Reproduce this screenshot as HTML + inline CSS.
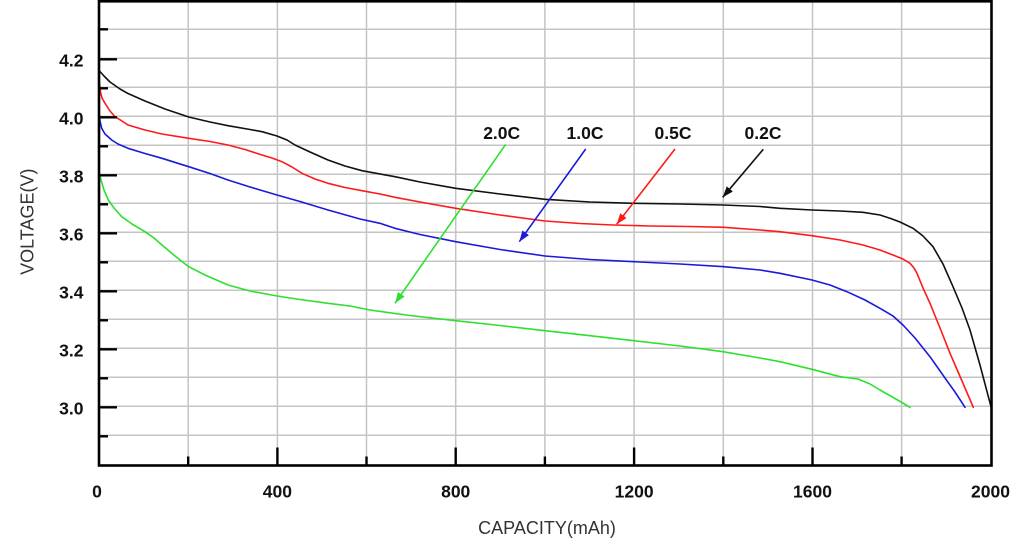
<!DOCTYPE html>
<html>
<head>
<meta charset="utf-8">
<style>
html,body{margin:0;padding:0;background:#fff;}
svg{display:block;}
text{font-family:"Liberation Sans",Arial,sans-serif;}
</style>
</head>
<body>
<svg width="1024" height="545" viewBox="0 0 1024 545" xmlns="http://www.w3.org/2000/svg">
<defs>
<marker id="mk" markerUnits="userSpaceOnUse" markerWidth="14" markerHeight="10" refX="11" refY="4" orient="auto">
<path d="M0,0 L11,4 L0,8 Z" fill="#111"/>
</marker>
<marker id="mr" markerUnits="userSpaceOnUse" markerWidth="14" markerHeight="10" refX="11" refY="4" orient="auto">
<path d="M0,0 L11,4 L0,8 Z" fill="#ff1a1a"/>
</marker>
<marker id="mb" markerUnits="userSpaceOnUse" markerWidth="14" markerHeight="10" refX="11" refY="4" orient="auto">
<path d="M0,0 L11,4 L0,8 Z" fill="#1a1adc"/>
</marker>
<marker id="mg" markerUnits="userSpaceOnUse" markerWidth="14" markerHeight="10" refX="11" refY="4" orient="auto">
<path d="M0,0 L11,4 L0,8 Z" fill="#2ee02e"/>
</marker>
</defs>

<!-- gridlines -->
<g stroke="#c4c4c4" stroke-width="1.5">
<line x1="188.2" y1="1" x2="188.2" y2="465"/>
<line x1="277.4" y1="1" x2="277.4" y2="465"/>
<line x1="366.5" y1="1" x2="366.5" y2="465"/>
<line x1="455.7" y1="1" x2="455.7" y2="465"/>
<line x1="544.9" y1="1" x2="544.9" y2="465"/>
<line x1="634.1" y1="1" x2="634.1" y2="465"/>
<line x1="723.3" y1="1" x2="723.3" y2="465"/>
<line x1="812.5" y1="1" x2="812.5" y2="465"/>
<line x1="901.6" y1="1" x2="901.6" y2="465"/>

<line x1="99" y1="29.3" x2="991" y2="29.3"/>
<line x1="99" y1="58.3" x2="991" y2="58.3"/>
<line x1="99" y1="87.3" x2="991" y2="87.3"/>
<line x1="99" y1="116.3" x2="991" y2="116.3"/>
<line x1="99" y1="145.3" x2="991" y2="145.3"/>
<line x1="99" y1="174.3" x2="991" y2="174.3"/>
<line x1="99" y1="203.3" x2="991" y2="203.3"/>
<line x1="99" y1="232.3" x2="991" y2="232.3"/>
<line x1="99" y1="261.3" x2="991" y2="261.3"/>
<line x1="99" y1="290.3" x2="991" y2="290.3"/>
<line x1="99" y1="319.3" x2="991" y2="319.3"/>
<line x1="99" y1="348.3" x2="991" y2="348.3"/>
<line x1="99" y1="377.3" x2="991" y2="377.3"/>
<line x1="99" y1="406.3" x2="991" y2="406.3"/>
<line x1="99" y1="435.3" x2="991" y2="435.3"/>
</g>

<!-- curves -->
<g fill="none" stroke-width="1.6" stroke-linejoin="round" stroke-linecap="round">
<polyline stroke="#2ee02e" points="99.3,173.3 101,180 104,190 108.3,200 114,208 121.7,216.7 132,224 145,231.7 154,238 162,245 175,256 188.7,266.7 205,275 228,285 250,291 277,296 300,299.5 328,303.3 350,306 370,310 410,315.5 455.7,320.7 500,325.5 545,330.7 590,335.7 634,340.7 680,346 723,351.7 760,358 780,361.7 812,369.3 840,376.7 858,379 870,384 880,390 895,398.5 910,407.3"/>
<polyline stroke="#1a1adc" points="99.3,115 100,121 101.7,128.3 105,134 111.7,140 118,144 128,148.3 145,153.5 162,158.3 188.7,166.7 210,173.5 228,180 250,187 277,195 300,201.5 328,210 360,219 380,223.3 395,228.3 420,234.5 455.7,241.7 500,249.5 545,256 590,259.5 634,261.7 680,264 724,266.7 760,270 780,273.3 812,280 830,285 847,291.7 865,300 880,308.3 893,316 903,325 915,338 930,356.7 945,378 955,392 965,407.3"/>
<polyline stroke="#ff1a1a" points="99.3,82 100.5,92 102,98 105,103.3 110,111 115,116.7 122,121 128,125 145,130 162,134 188.7,138.3 210,141.5 228,145 245,149.5 262,155 272,158 282,161.7 292,167 302,173.3 315,179 328,183.3 345,187.5 362,190.7 380,194 395,197.3 420,202 455.7,208.3 500,215 545,221 580,223.5 613,225 650,226 690,226.5 724,227.3 760,230 780,231.7 812,235.7 840,240 863,245 880,250 893,255 903,259 910,263.3 914,268 917,273.3 923,288 930,303.3 940,328 950,353.3 962,381 973.3,407.3"/>
<polyline stroke="#111" points="99.5,71 104,76 110,82 120,89 128,93.5 145,101 165,109 188.7,117 210,122 228,125.7 250,129.5 262,131.7 277,136 287,140 295,145 310,152 328,160 345,166 362,170.7 395,176.7 420,182 455.7,188.3 500,194 545,199.3 590,202 634,203.3 680,204 723,205 760,206.5 780,208.3 812,210 840,211 863,212.3 880,215 890,218.3 900,222 913,228.3 923,236 933,246.7 943,264 953,286.7 962,308 970,330 980,365 991,406.7"/>
</g>

<!-- arrows -->
<g stroke-width="1.6" fill="none">
<line x1="505.7" y1="144.3" x2="395" y2="303.3" stroke="#2ee02e" marker-end="url(#mg)"/>
<line x1="585.7" y1="149" x2="519.3" y2="241.7" stroke="#1a1adc" marker-end="url(#mb)"/>
<line x1="675" y1="149" x2="616.7" y2="224.3" stroke="#ff1a1a" marker-end="url(#mr)"/>
<line x1="763.3" y1="149.3" x2="722.7" y2="197.3" stroke="#111" marker-end="url(#mk)"/>
</g>

<!-- annotation labels -->
<g font-size="17.5" font-weight="bold" fill="#111" text-anchor="middle">
<text x="501.7" y="139">2.0C</text>
<text x="585" y="139">1.0C</text>
<text x="673" y="139">0.5C</text>
<text x="763" y="139">0.2C</text>
</g>

<!-- axes frame -->
<g stroke="#000" stroke-width="2.6" fill="none">
<rect x="99" y="1.3" width="892.5" height="464.2"/>
</g>

<!-- y ticks -->
<g stroke="#000" stroke-width="2.4">
<line x1="99" y1="29.3" x2="108" y2="29.3"/>
<line x1="99" y1="59.3" x2="117" y2="59.3"/>
<line x1="99" y1="88.3" x2="108" y2="88.3"/>
<line x1="99" y1="117.3" x2="117" y2="117.3"/>
<line x1="99" y1="146.3" x2="108" y2="146.3"/>
<line x1="99" y1="175.3" x2="117" y2="175.3"/>
<line x1="99" y1="204.3" x2="108" y2="204.3"/>
<line x1="99" y1="233.3" x2="117" y2="233.3"/>
<line x1="99" y1="262.3" x2="108" y2="262.3"/>
<line x1="99" y1="291.3" x2="117" y2="291.3"/>
<line x1="99" y1="320.3" x2="108" y2="320.3"/>
<line x1="99" y1="349.3" x2="117" y2="349.3"/>
<line x1="99" y1="378.3" x2="108" y2="378.3"/>
<line x1="99" y1="407.3" x2="117" y2="407.3"/>
<line x1="99" y1="436.3" x2="108" y2="436.3"/>
</g>
<!-- x ticks -->
<g stroke="#000" stroke-width="2.4">
<line x1="188.2" y1="465" x2="188.2" y2="456.5"/>
<line x1="277.4" y1="465" x2="277.4" y2="447.5"/>
<line x1="366.5" y1="465" x2="366.5" y2="456.5"/>
<line x1="455.7" y1="465" x2="455.7" y2="447.5"/>
<line x1="544.9" y1="465" x2="544.9" y2="456.5"/>
<line x1="634.1" y1="465" x2="634.1" y2="447.5"/>
<line x1="723.3" y1="465" x2="723.3" y2="456.5"/>
<line x1="812.5" y1="465" x2="812.5" y2="447.5"/>
<line x1="901.6" y1="465" x2="901.6" y2="456.5"/>
</g>

<!-- y tick labels -->
<g font-size="17.5" font-weight="bold" fill="#111" text-anchor="end">
<text x="83.5" y="66.3">4.2</text>
<text x="83.5" y="124.3">4.0</text>
<text x="83.5" y="182.3">3.8</text>
<text x="83.5" y="240.3">3.6</text>
<text x="83.5" y="298.3">3.4</text>
<text x="83.5" y="356.3">3.2</text>
<text x="83.5" y="414.3">3.0</text>
</g>

<!-- x tick labels -->
<g font-size="17.5" font-weight="bold" fill="#111" text-anchor="middle">
<text x="97" y="497.5">0</text>
<text x="277.4" y="497.5">400</text>
<text x="455.7" y="497.5">800</text>
<text x="634.1" y="497.5">1200</text>
<text x="812.5" y="497.5">1600</text>
<text x="990.5" y="497.5">2000</text>
</g>

<!-- axis titles -->
<text x="547" y="534" font-size="18" fill="#333" text-anchor="middle">CAPACITY(mAh)</text>
<text transform="translate(33.5,221.7) rotate(-90)" font-size="18" fill="#333" text-anchor="middle">VOLTAGE(V)</text>
</svg>
</body>
</html>
